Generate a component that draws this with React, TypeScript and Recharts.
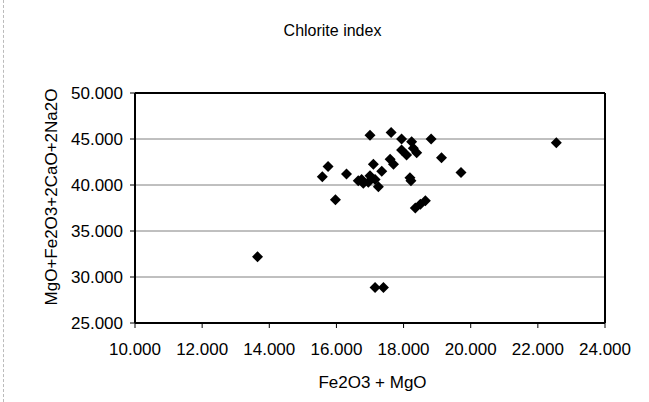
import { ScatterChart, Scatter, XAxis, YAxis, CartesianGrid, ReferenceLine } from 'recharts'

// Fe2O3 + MgO (x) against MgO+Fe2O3+2CaO+2Na2O (y)
const feMg = [
  13.65, 15.58, 15.75, 15.97, 16.3, 16.65, 16.75, 16.8, 16.95, 17.0, 17.0, 17.1, 17.15, 17.25, 17.35,
  17.15, 17.4, 17.6, 17.7, 17.63, 17.94, 17.94, 18.09, 18.24, 18.29, 18.39, 18.19, 18.22, 18.35, 18.5,
  18.65, 18.82, 19.13, 19.71, 22.55,
]
const chloriteSum = [
  32.2, 40.9, 42.0, 38.4, 41.2, 40.45, 40.6, 40.2, 40.3, 41.0, 45.4, 42.25, 40.6, 39.8, 41.5,
  28.85, 28.85, 42.8, 42.25, 45.7, 45.0, 43.8, 43.25, 44.7, 44.0, 43.5, 40.8, 40.45, 37.5, 37.9,
  38.3, 45.0, 42.95, 41.35, 44.6,
]

const xTicks = [10, 12, 14, 16, 18, 20, 22, 24]
const yTicks = [25, 30, 35, 40, 45, 50]

const points = feMg.map((x, i) => ({ x, y: chloriteSum[i] }))

const FONT = 'Arial, "Liberation Sans", sans-serif'

const Diamond = (props: { cx?: number; cy?: number }) => {
  const { cx = 0, cy = 0 } = props
  const r = 5.5
  return <path d={`M${cx},${cy - r}L${cx + r},${cy}L${cx},${cy + r}L${cx - r},${cy}Z`} fill="#000" />
}

export default function App() {
  return (
    <div style={{ position: 'fixed', left: 0, top: 0, width: 649, height: 402, background: '#fff', fontFamily: FONT }}>
      <div style={{ position: 'absolute', left: 3, top: 0, height: 402, borderLeft: '1px dashed #bbb' }} />
      <div style={{ position: 'absolute', left: 0, width: 649, top: 22, textAlign: 'center', paddingLeft: 16, boxSizing: 'border-box', fontSize: 16, color: '#000' }}>
        Chlorite index
      </div>
      <div style={{ position: 'absolute', left: 0, width: 649, top: 373, textAlign: 'center', paddingLeft: 96, boxSizing: 'border-box', fontSize: 17, color: '#000' }}>
        Fe2O3 + MgO
      </div>
      <div
        style={{
          position: 'absolute', left: 52, top: 197, fontSize: 17, color: '#000', whiteSpace: 'nowrap',
          transform: 'translate(-50%, -50%) rotate(-90deg)',
        }}
      >
        MgO+Fe2O3+2CaO+2Na2O
      </div>
      <ScatterChart width={649} height={402} margin={{ top: 93, right: 44, bottom: 39, left: 55 }}>
        <CartesianGrid horizontal vertical={false} stroke="#808080" strokeWidth={1} />
        <XAxis
          type="number"
          dataKey="x"
          domain={[10, 24]}
          ticks={xTicks}
          tickFormatter={(v: number) => v.toFixed(3)}
          tick={{ fill: '#000', fontSize: 17, fontFamily: FONT }}
          axisLine={{ stroke: '#000', strokeWidth: 2 }}
          tickLine={{ stroke: '#000' }}
          tickSize={5}
          tickMargin={15}
          height={40}
          interval={0}
        />
        <YAxis
          type="number"
          dataKey="y"
          domain={[25, 50]}
          ticks={yTicks}
          tickFormatter={(v: number) => v.toFixed(3)}
          tick={{ fill: '#000', fontSize: 17, fontFamily: FONT }}
          axisLine={{ stroke: '#000', strokeWidth: 2 }}
          tickLine={{ stroke: '#000' }}
          tickSize={5}
          tickMargin={7}
          width={80}
          interval={0}
        />
        <ReferenceLine y={50} stroke="#000" strokeWidth={2} />
        <ReferenceLine x={24} stroke="#000" strokeWidth={2} />
        <Scatter data={points} fill="#000" shape={<Diamond />} isAnimationActive={false} />
      </ScatterChart>
    </div>
  )
}
